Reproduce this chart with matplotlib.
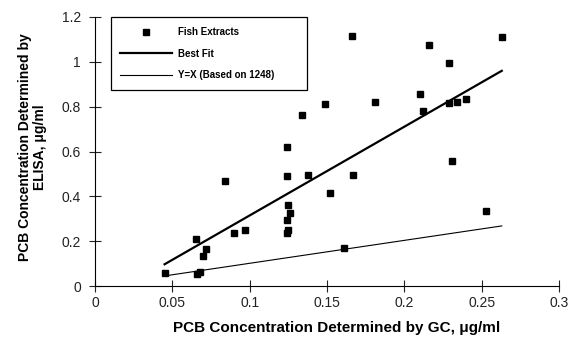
import matplotlib
matplotlib.use("Agg")
import matplotlib.pyplot as plt

plt.rcParams['font.family'] = ['Liberation Sans', 'DejaVu Sans']

# fish extracts: GC (x) vs ELISA (y), ug/ml
gc = [0.045, 0.065, 0.066, 0.068, 0.070, 0.072, 0.084, 0.090, 0.097,
      0.124, 0.124, 0.125, 0.126, 0.124, 0.125, 0.124, 0.138, 0.152,
      0.167, 0.231, 0.253, 0.161, 0.166, 0.216, 0.229, 0.263, 0.149,
      0.134, 0.181, 0.210, 0.212, 0.229, 0.234, 0.240]
elisa = [0.059, 0.211, 0.052, 0.064, 0.135, 0.166, 0.467, 0.236, 0.250,
         0.621, 0.492, 0.360, 0.327, 0.296, 0.250, 0.236, 0.497, 0.413,
         0.497, 0.556, 0.333, 0.169, 1.115, 1.074, 0.996, 1.109, 0.810,
         0.763, 0.822, 0.858, 0.782, 0.815, 0.821, 0.836]

fit_x = [0.045, 0.263]
fit_y = [0.097, 0.960]
yx_x = [0.045, 0.263]
yx_y = [0.045, 0.268]

fig = plt.figure(figsize=(5.7, 3.42), dpi=100)
ax = fig.add_axes([95/570, 1-286/342, (559-95)/570, (286-17)/342])

ax.plot(gc, elisa, 's', color='black', markersize=5, label='Fish Extracts', zorder=3)
ax.plot(fit_x, fit_y, '-', color='black', lw=1.6, label='Best Fit')
ax.plot(yx_x, yx_y, '-', color='black', lw=0.8, label='Y=X (Based on 1248)')

ax.set_xticks([0, 0.05, 0.1, 0.15, 0.2, 0.25, 0.3])
ax.set_xticklabels(['0', '0.05', '0.1', '0.15', '0.2', '0.25', '0.3'])
ax.set_yticks([0, 0.2, 0.4, 0.6, 0.8, 1, 1.2])
ax.set_yticklabels(['0', '0.2', '0.4', '0.6', '0.8', '1', '1.2'])
ax.spines['top'].set_visible(False)
ax.spines['right'].set_visible(False)
ax.tick_params(direction='inout', length=8, width=0.8, labelsize=10, colors='#222222')
ax.tick_params(axis='y', pad=6)
ax.set_xlim(0, 0.3)
ax.set_ylim(0, 1.2)

ax.set_xlabel('PCB Concentration Determined by GC, \u03bcg/ml', fontsize=11,
              fontweight='bold')
ax.xaxis.set_label_coords(0.5 + 10/464, -35/269)
ax.set_ylabel('PCB Concentration Determined by\nELISA, \u03bcg/ml', fontsize=10,
              fontweight='bold', linespacing=1.05)
ax.yaxis.set_label_coords(-48/464, 0.5 + 4/269)

# legend box position (figure pixels)
top = 1 - 17.3/342
hgt = 72.7/342
leg = ax.legend(loc='upper left', bbox_to_anchor=(110.7/570, top - hgt, 196/570, hgt),
                bbox_transform=fig.transFigure, mode='expand',
                prop={'weight': 'bold', 'size': 7}, fancybox=False, edgecolor='black',
                framealpha=1, borderaxespad=0, borderpad=1.0, labelspacing=1.2,
                handlelength=5.3, handletextpad=0.6, numpoints=1)
leg.get_frame().set_linewidth(0.9)

fig.savefig('out.png', dpi=100)
